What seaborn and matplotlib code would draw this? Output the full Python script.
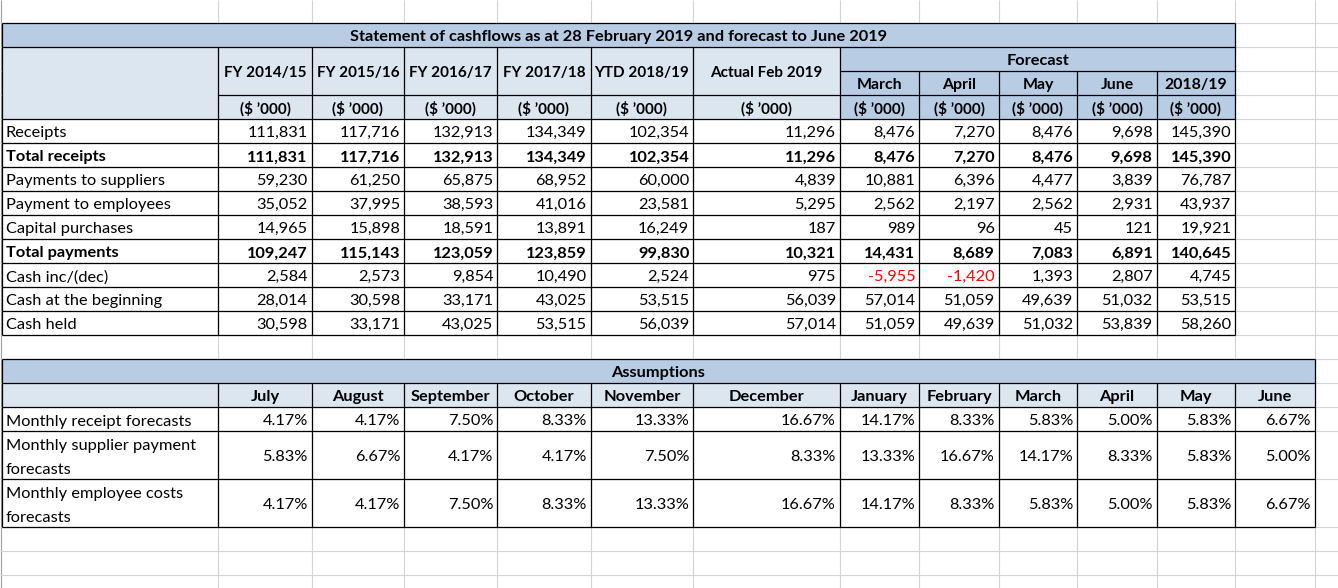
import numpy as np
import matplotlib.pyplot as plt
import seaborn as sns
from matplotlib.patches import Rectangle

sns.set_theme(style="white")
plt.rcParams["font.family"] = ["Lato", "DejaVu Sans"]

# Statement of cashflows

title = "Statement of cashflows as at 28 February 2019 and forecast to June 2019"
history_headers = ["FY 2014/15", "FY 2015/16", "FY 2016/17", "FY 2017/18", "YTD 2018/19", "Actual Feb 2019"]
forecast_label = "Forecast"
forecast_headers = ["March", "April", "May", "June", "2018/19"]
unit_label = "($ \u2019000)"

row_labels = [
    "Receipts",
    "Total receipts",
    "Payments to suppliers",
    "Payment to employees",
    "Capital purchases",
    "Total payments",
    "Cash inc/(dec)",
    "Cash at the beginning",
    "Cash held"
]
bold_rows = ["Total receipts", "Total payments"]

receipts = [111831, 117716, 132913, 134349, 102354, 11296, 8476, 7270, 8476, 9698, 145390]
total_receipts = [111831, 117716, 132913, 134349, 102354, 11296, 8476, 7270, 8476, 9698, 145390]
suppliers = [59230, 61250, 65875, 68952, 60000, 4839, 10881, 6396, 4477, 3839, 76787]
employees = [35052, 37995, 38593, 41016, 23581, 5295, 2562, 2197, 2562, 2931, 43937]
capital = [14965, 15898, 18591, 13891, 16249, 187, 989, 96, 45, 121, 19921]
total_payments = [109247, 115143, 123059, 123859, 99830, 10321, 14431, 8689, 7083, 6891, 140645]
cash_change = [2584, 2573, 9854, 10490, 2524, 975, -5955, -1420, 1393, 2807, 4745]
cash_begin = [28014, 30598, 33171, 43025, 53515, 56039, 57014, 51059, 49639, 51032, 53515]
cash_held = [30598, 33171, 43025, 53515, 56039, 57014, 51059, 49639, 51032, 53839, 58260]

statement = [receipts, total_receipts, suppliers, employees, capital,
             total_payments, cash_change, cash_begin, cash_held]

# Assumptions

assumptions_title = "Assumptions"
months = ["July", "August", "September", "October", "November", "December",
          "January", "February", "March", "April", "May", "June"]
assumption_labels = [
    "Monthly receipt forecasts",
    "Monthly supplier payment\nforecasts",
    "Monthly employee costs\nforecasts"
]
receipt_pct = [4.17, 4.17, 7.50, 8.33, 13.33, 16.67, 14.17, 8.33, 5.83, 5.00, 5.83, 6.67]
supplier_pct = [5.83, 6.67, 4.17, 4.17, 7.50, 8.33, 13.33, 16.67, 14.17, 8.33, 5.83, 5.00]
employee_pct = [4.17, 4.17, 7.50, 8.33, 13.33, 16.67, 14.17, 8.33, 5.83, 5.00, 5.83, 6.67]

assumptions = [receipt_pct, supplier_pct, employee_pct]

# Sheet layout (pixels)

col_edges = np.array([1.7, 218.3, 311.7, 404.3, 497.3, 590.7, 693.3, 840.0,
                      919.3, 998.7, 1077.3, 1156.7, 1235.3, 1314.7, 1394.0])
row_heights = [23.3] + [24] * 17 + [48, 48] + [24] * 3
row_edges = np.concatenate([[0], np.cumsum(row_heights)])

grid_grey = "#D4D4D4"
dark_blue = "#B8CCE4"
light_blue = "#DCE6F1"
fs = 11.8
header_fs = 11.0

fig = plt.figure(figsize=(13.38, 5.88), dpi=100)
ax = fig.add_axes([0, 0, 1, 1])
ax.set_xlim(0, 1338)
ax.set_ylim(588, 0)
ax.axis("off")

# sheet gridlines
ax.vlines(col_edges[1:], 0, 588, color=grid_grey, lw=0.8, zorder=1)
ax.vlines([1.0], 0, 588, color="#A0A0A0", lw=0.8, zorder=1)
ax.hlines(row_edges[1:], 0, 1338, color=grid_grey, lw=0.8, zorder=1)


def fill(c0, c1, r0, r1, color):
    x0, x1 = col_edges[c0], col_edges[c1]
    y0, y1 = row_edges[r0], row_edges[r1]
    ax.add_patch(Rectangle((x0, y0), x1 - x0, y1 - y0, facecolor=color,
                           edgecolor="none", zorder=2))


def text(c0, c1, r0, r1, s, ha="right", bold=False, color="black", size=fs):
    if ha == "right":
        x = col_edges[c1] - 4
    elif ha == "left":
        x = col_edges[c0] + 4
    else:
        x = (col_edges[c0] + col_edges[c1]) / 2
    y = (row_edges[r0] + row_edges[r1]) / 2 + 6
    ax.text(x, y, s, ha=ha, va="baseline", fontsize=size, color=color,
            fontweight="bold" if bold else "normal", zorder=5)


def hline(r, c0, c1):
    ax.hlines(row_edges[r], col_edges[c0], col_edges[c1], color="black", lw=0.9, zorder=4)


def vline(c, r0, r1):
    ax.vlines(col_edges[c], row_edges[r0], row_edges[r1], color="black", lw=0.9, zorder=4)


# Statement table: fills
fill(0, 12, 1, 2, dark_blue)
fill(0, 7, 2, 5, light_blue)
fill(7, 12, 2, 5, dark_blue)

# Statement table: borders
for r in [1, 2] + list(range(5, 15)):
    hline(r, 0, 12)
hline(3, 7, 12)
hline(4, 1, 12)
vline(0, 1, 14)
vline(12, 1, 14)
for c in range(1, 8):
    vline(c, 2, 14)
for c in range(8, 12):
    vline(c, 3, 14)

# Statement table: text
text(0, 12, 1, 2, title, ha="center", bold=True)
for j, h in enumerate(history_headers):
    text(1 + j, 2 + j, 2, 4, h, ha="center", bold=True, size=header_fs)
    text(1 + j, 2 + j, 4, 5, unit_label, ha="center", bold=True, size=header_fs)
text(7, 12, 2, 3, forecast_label, ha="center", bold=True)
for j, h in enumerate(forecast_headers):
    text(7 + j, 8 + j, 3, 4, h, ha="center", bold=True, size=header_fs + 0.4)
    text(7 + j, 8 + j, 4, 5, unit_label, ha="center", bold=True, size=header_fs)

for i, (label, vals) in enumerate(zip(row_labels, statement)):
    r = 5 + i
    bold = label in bold_rows
    text(0, 1, r, r + 1, label, ha="left", bold=bold)
    for j, v in enumerate(vals):
        text(1 + j, 2 + j, r, r + 1, f"{v:,}", bold=bold,
             color="#FF0000" if v < 0 else "black")

# Assumptions table: fills
fill(0, 13, 15, 16, dark_blue)
fill(0, 13, 16, 17, light_blue)

# Assumptions table: borders
for r in range(15, 21):
    hline(r, 0, 13)
vline(0, 15, 20)
vline(13, 15, 20)
for c in range(1, 13):
    vline(c, 16, 20)

# Assumptions table: text
text(0, 13, 15, 16, assumptions_title, ha="center", bold=True)
for j, m in enumerate(months):
    text(1 + j, 2 + j, 16, 17, m, ha="center", bold=True)

for i, (label, vals) in enumerate(zip(assumption_labels, assumptions)):
    r = 17 + i
    top = row_edges[r]
    for k, line in enumerate(label.split("\n")):
        ax.text(col_edges[0] + 4, top + 24 * (k + 1) - 5.5, line, ha="left",
                va="baseline", fontsize=fs, color="black", zorder=5)
    for j, v in enumerate(vals):
        text(1 + j, 2 + j, r, r + 1, f"{v:.2f}%")

plt.savefig("out.png", dpi=100)
plt.close()
